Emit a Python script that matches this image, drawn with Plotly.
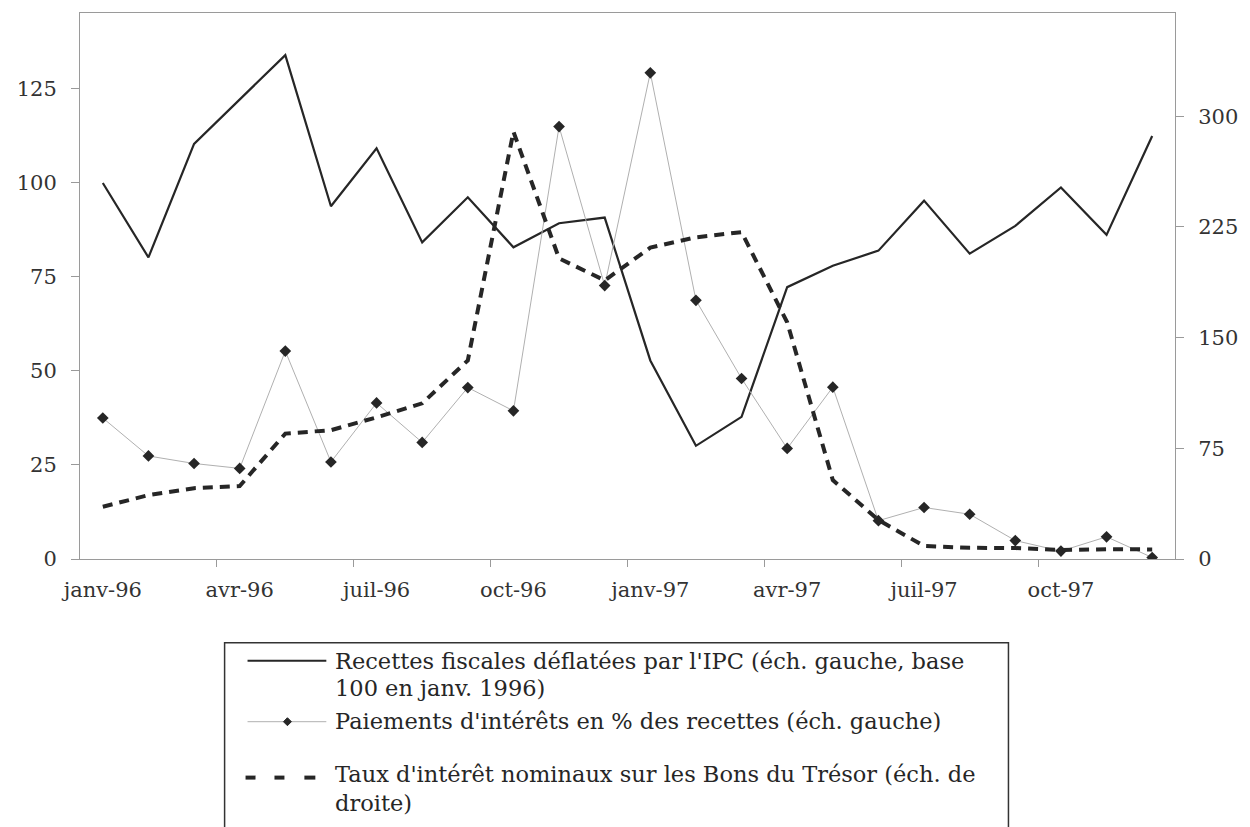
import plotly.graph_objects as go

# monthly data, janv-96 .. déc-97
MONTHS = ["janv-96", "févr-96", "mars-96", "avr-96", "mai-96", "juin-96",
          "juil-96", "août-96", "sept-96", "oct-96", "nov-96", "déc-96",
          "janv-97", "févr-97", "mars-97", "avr-97", "mai-97", "juin-97",
          "juil-97", "août-97", "sept-97", "oct-97", "nov-97", "déc-97"]

# left scale, base 100 in janv. 1996
RECETTES = [100, 80.2, 110.4, 122.3, 134.0, 93.8, 109.2, 84.2, 96.2, 82.9, 89.3, 90.8,
            52.8, 30.1, 37.8, 72.3, 78.0, 82.0, 95.3, 81.2, 88.6, 98.8, 86.2, 112.5]
# left scale, % of revenue
PAIEMENTS = [37.5, 27.4, 25.4, 24.1, 55.3, 25.8, 41.5, 31.0, 45.6, 39.4, 115.0, 72.7,
             129.3, 68.8, 48.0, 29.4, 45.7, 10.2, 13.7, 11.9, 4.9, 2.1, 5.9, 0.4]
# right scale
TAUX = [35.4, 43.3, 48.0, 49.4, 85.0, 87.3, 96.0, 105.5, 134.6, 289.6, 203.7, 188.8,
        211.0, 218.0, 221.5, 160.4, 53.5, 26.4, 8.8, 7.6, 7.4, 6.1, 6.6, 6.5]

TICK_LABELS = ["janv-96", "avr-96", "juil-96", "oct-96",
               "janv-97", "avr-97", "juil-97", "oct-97"]
LEFT_TICKS = [0, 25, 50, 75, 100, 125]
RIGHT_TICKS = [0, 75, 150, 225, 300]

LEGEND_NAMES = [
    ["Recettes fiscales déflatées par l'IPC (éch. gauche, base", "100 en janv. 1996)"],
    ["Paiements d'intérêts en % des recettes (éch. gauche)"],
    ["Taux d'intérêt nominaux sur les Bons du Trésor (éch. de", "droite)"],
]

# page body has an 8px margin, so the figure is a bit smaller than the window
PAGE_OFF = 8
W, H = 1234, 819
L, R, T, B = 72, 64, 4, 268
FONT = "DejaVu Serif"
INK = "#262626"
AXIS = "#9a9a9a"

x = list(range(len(MONTHS)))
tick_pos = [MONTHS.index(m) for m in TICK_LABELS]

fig = go.Figure()
fig.add_trace(go.Scatter(x=x, y=RECETTES, mode="lines", name="recettes",
                         line=dict(color=INK, width=2.2), showlegend=False))
fig.add_trace(go.Scatter(x=x, y=PAIEMENTS, mode="lines+markers", name="paiements",
                         line=dict(color="#b0b0b0", width=1),
                         marker=dict(symbol="diamond", size=9, color=INK),
                         showlegend=False))
fig.add_trace(go.Scatter(x=x, y=TAUX, mode="lines", name="taux", yaxis="y2",
                         line=dict(color=INK, width=4, dash="10px,7px"),
                         showlegend=False))


# hand-drawn legend box (Excel style, symbol on first text line)
def px_x(p):
    return (p - PAGE_OFF - L) / (W - L - R)


def px_y(p):
    return (H - B - (p - PAGE_OFF)) / (H - T - B)


def seg(x0, x1, y, **line):
    fig.add_shape(type="line", xref="paper", yref="paper",
                  x0=px_x(x0), x1=px_x(x1), y0=px_y(y), y1=px_y(y), line=line)


fig.add_shape(type="rect", xref="paper", yref="paper",
              x0=px_x(225), x1=px_x(1011), y0=px_y(643), y1=px_y(870),
              line=dict(color="#333", width=1.5))

sample_y = [661, 722, 778]
seg(248, 327, sample_y[0], color=INK, width=2)
seg(248, 327, sample_y[1], color="#b0b0b0", width=1)
cx, cy = 288, sample_y[1]
fig.add_shape(type="path", xref="paper", yref="paper", fillcolor=INK,
              line=dict(color=INK, width=1),
              path=f"M {px_x(cx-4)},{px_y(cy)} L {px_x(cx)},{px_y(cy-4)} "
                   f"L {px_x(cx+4)},{px_y(cy)} L {px_x(cx)},{px_y(cy+4)} Z")
for d0, d1 in [(246, 256), (275, 285), (305, 316)]:
    seg(d0, d1, sample_y[2], color=INK, width=4)

row_y = [[661, 688], [721], [774, 803]]
for lines, ys in zip(LEGEND_NAMES, row_y):
    for txt, y in zip(lines, ys):
        fig.add_annotation(text=txt, xref="paper", yref="paper",
                           x=px_x(334), y=px_y(y), xanchor="left", yanchor="middle",
                           showarrow=False, font=dict(family=FONT, size=22.5, color=INK))

fig.update_layout(
    width=W, height=H,
    margin=dict(l=L, r=R, t=T, b=B),
    paper_bgcolor="white", plot_bgcolor="white",
    font=dict(family=FONT, size=21, color="#333"),
    xaxis=dict(range=[-0.5, len(MONTHS) - 0.5], tickmode="array",
               tickvals=tick_pos, ticktext=TICK_LABELS, ticks="",
               ticklabelstandoff=12,
               minor=dict(tickmode="array",
                          tickvals=[p - 0.5 for p in tick_pos[1:]],
                          ticks="outside", ticklen=7, tickcolor=AXIS),
               showline=True, linecolor=AXIS, linewidth=1, mirror=True,
               showgrid=False, zeroline=False),
    yaxis=dict(range=[0, 145.2], tickvals=LEFT_TICKS, ticks="outside",
               ticklen=8, tickcolor=AXIS, ticklabelstandoff=10,
               showline=True, linecolor=AXIS, linewidth=1,
               showgrid=False, zeroline=False),
    yaxis2=dict(range=[0, 370], tickvals=RIGHT_TICKS, overlaying="y", side="right",
                ticks="outside", ticklen=8, tickcolor=AXIS, ticklabelstandoff=10,
                showline=True, linecolor=AXIS, linewidth=1,
                showgrid=False, zeroline=False),
)

fig.write_html("out.html")
